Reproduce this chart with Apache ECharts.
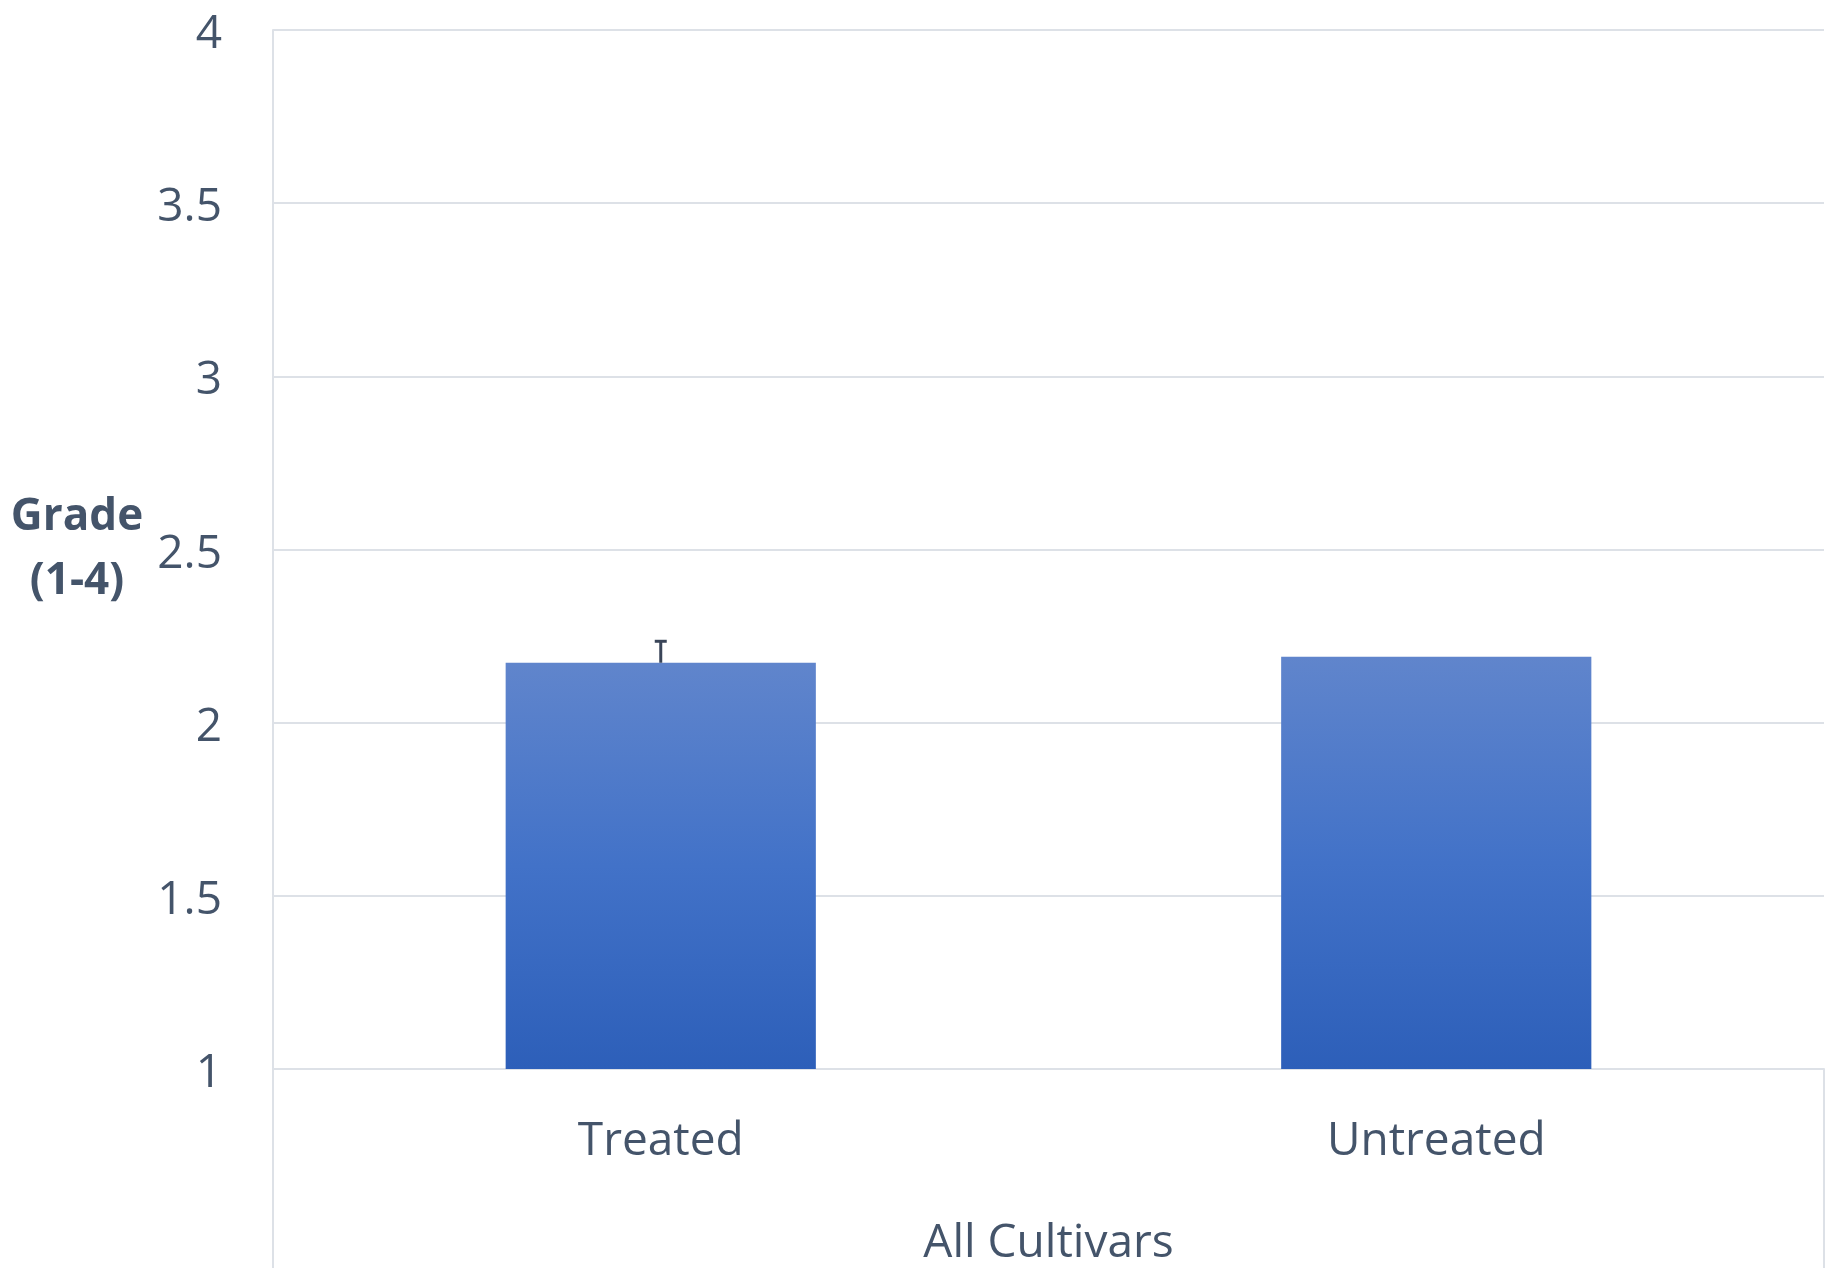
<!DOCTYPE html>
<html>
<head>
<meta charset="utf-8">
<script src="https://cdn.jsdelivr.net/npm/echarts@6/dist/echarts.min.js"></script>
<style>
  html, body { margin: 0; padding: 0; background: #ffffff; }
  #chart { width: 1831px; height: 1268px; }
</style>
</head>
<body>
<div id="chart"></div>
<script>
// Grade by treatment, pooled over all cultivars
const categories = ['Treated', 'Untreated'];
const groupLabel = ['All Cultivars'];
const grades = [2.173, 2.19];
const errors = [0.062, null];
const yTicks = { min: 1, max: 4, interval: 0.5 };

const textColor = '#44546A';
const lineColor = '#dde1e7';
const fontFamily = '"Open Sans", "Noto Sans", sans-serif';

const chart = echarts.init(document.getElementById('chart'), null, { renderer: 'canvas' });

const barFill = new echarts.graphic.LinearGradient(0, 0, 0, 1, [
  { offset: 0, color: '#6085CC' },
  { offset: 0.5, color: '#4272C8' },
  { offset: 1, color: '#2D5FB9' }
]);

chart.setOption({
  animation: false,
  grid: { left: 273, right: 7, top: 30, bottom: 199, containLabel: false },
  xAxis: [
    {
      type: 'category',
      data: categories,
      position: 'bottom',
      axisLine: { show: true, lineStyle: { color: lineColor, width: 2 } },
      axisTick: { show: false },
      axisLabel: { color: textColor, fontSize: 46, fontFamily: fontFamily, margin: 50 }
    },
    {
      type: 'category',
      data: groupLabel,
      position: 'bottom',
      boundaryGap: true,
      axisLine: { show: false },
      axisTick: { show: true, length: 199, inside: false, lineStyle: { color: lineColor, width: 2 } },
      axisLabel: { color: textColor, fontSize: 46, fontFamily: fontFamily, margin: 152 }
    }
  ],
  yAxis: {
    type: 'value',
    min: yTicks.min,
    max: yTicks.max,
    interval: yTicks.interval,
    name: 'Grade\n(1-4)',
    nameLocation: 'middle',
    nameRotate: 0,
    nameGap: 196,
    nameTextStyle: {
      color: textColor, fontSize: 44, fontWeight: 'bold', fontFamily: fontFamily,
      align: 'center', verticalAlign: 'middle', lineHeight: 64
    },
    axisLine: { show: true, lineStyle: { color: lineColor, width: 2 } },
    axisTick: { show: false },
    splitLine: { show: true, lineStyle: { color: lineColor, width: 2 } },
    axisLabel: {
      color: textColor, fontSize: 46, fontFamily: fontFamily, margin: 51,
      verticalAlign: 'top', lineHeight: 10
    }
  },
  series: [
    {
      type: 'bar',
      data: grades,
      barWidth: '40%',
      itemStyle: { color: barFill }
    },
    {
      type: 'custom',
      data: grades.map((g, i) => [i, g, errors[i]]),
      z: 5,
      renderItem: function (params, api) {
        const err = api.value(2);
        if (err === null || err === undefined || isNaN(err) || !err) return null;
        const x = api.value(0);
        const top = api.coord([x, api.value(1) + err]);
        const base = api.coord([x, api.value(1)]);
        const half = 6;
        const style = { stroke: '#3a4558', lineWidth: 3 };
        return {
          type: 'group',
          children: [
            { type: 'line', shape: { x1: top[0], y1: top[1], x2: base[0], y2: base[1] }, style: style },
            { type: 'line', shape: { x1: top[0] - half, y1: top[1], x2: top[0] + half, y2: top[1] }, style: style }
          ]
        };
      }
    }
  ]
});
</script>
</body>
</html>
